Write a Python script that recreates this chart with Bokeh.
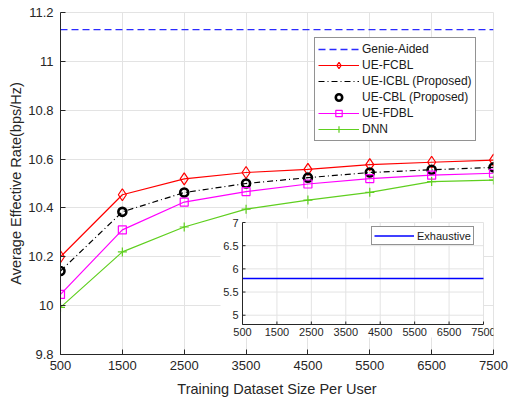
from bokeh.plotting import figure
from bokeh.models import (Range1d, FixedTicker, CustomJSTickFormatter, Legend,
                          LegendItem, ColumnDataSource, BasicTickFormatter)
from bokeh.embed import file_html
from bokeh.resources import INLINE
from bokeh.core.properties import value

# ---------------- data ----------------
train_size = [500, 1500, 2500, 3500, 4500, 5500, 6500, 7500]
genie_aided = 11.13
ue_fcbl = [10.200, 10.454, 10.519, 10.545, 10.558, 10.577, 10.587, 10.596]
ue_icbl = [10.142, 10.384, 10.463, 10.500, 10.524, 10.545, 10.556, 10.566]
ue_cbl = [10.142, 10.384, 10.463, 10.500, 10.524, 10.545, 10.556, 10.566]
ue_fdbl = [10.046, 10.310, 10.424, 10.467, 10.498, 10.520, 10.534, 10.542]
dnn = [9.993, 10.220, 10.322, 10.395, 10.432, 10.464, 10.508, 10.514]
exhaustive = 5.79

main_yticks = [9.8, 10.0, 10.2, 10.4, 10.6, 10.8, 11.0, 11.2]
inset_xticks = [500, 1500, 2500, 3500, 4500, 5500, 6500, 7500]
inset_yticks = [5.0, 5.5, 6.0, 6.5, 7.0]
inset_ylim = (4.8, 7.0)

# ---------------- layout constants (pixels) ----------------
W, H = 509, 401
FL, FR, FT, FB = 60, 493, 12, 354          # main frame edges
IL, IR, IT, IB = 242, 483, 222, 324         # inset axes box
FONT = "Liberation Sans"
AX = "#262626"
GRID = "#e3e3e3"

p = figure(width=W, height=H, output_backend="svg", toolbar_location=None,
           x_range=Range1d(train_size[0], train_size[-1]),
           y_range=Range1d(main_yticks[0], main_yticks[-1]),
           min_border_left=FL, min_border_right=W - FR,
           min_border_top=FT, min_border_bottom=H - FB)
p.background_fill_color = "white"
p.border_fill_color = "white"
p.outline_line_color = GRID

for ax in (p.xaxis[0], p.yaxis[0]):
    ax.axis_line_color = AX
    ax.major_tick_line_color = AX
    ax.major_tick_in = 5
    ax.major_tick_out = 0
    ax.minor_tick_line_color = None
    ax.major_label_text_font = FONT
    ax.major_label_text_font_size = "13px"
    ax.major_label_text_color = AX
    ax.axis_label_text_font = FONT
    ax.axis_label_text_font_size = "14.5px"
    ax.axis_label_text_font_style = "normal"
    ax.axis_label_text_color = AX

p.xaxis.ticker = FixedTicker(ticks=train_size)
p.xaxis.formatter = BasicTickFormatter(use_scientific=False)
p.xaxis.major_label_standoff = 6
p.xaxis.axis_label = "Training Dataset Size Per User"
p.xaxis.axis_label_standoff = 8
p.yaxis.ticker = FixedTicker(ticks=main_yticks)
p.yaxis.formatter = CustomJSTickFormatter(code="return Number(tick.toFixed(1)).toString();")
p.yaxis.major_label_standoff = 7
p.yaxis.axis_label = "Average Effective Rate(bps/Hz)"
p.yaxis.axis_label_standoff = 1
p.xgrid.grid_line_color = GRID
p.ygrid.grid_line_color = GRID

# ---------------- main series ----------------
lw = 1.2
genie_r = p.line([train_size[0], train_size[-1]], [genie_aided, genie_aided],
                 line_color="#2b2bff", line_width=1.3, line_dash="7 4")
fcbl_l = p.line(train_size, ue_fcbl, line_color="red", line_width=lw)
fcbl_m = p.scatter(train_size, ue_fcbl, marker="diamond", size=12,
                   line_color="red", line_width=lw, fill_color=None)
icbl_l = p.line(train_size, ue_icbl, line_color="black", line_width=lw, line_dash="6 3 1 3")
cbl_m = p.scatter(train_size, ue_cbl, marker="circle", size=8,
                  line_color="black", line_width=2.6, fill_color=None)
fdbl_l = p.line(train_size, ue_fdbl, line_color="#ff00ff", line_width=lw)
fdbl_m = p.scatter(train_size, ue_fdbl, marker="square", size=8,
                   line_color="#ff00ff", line_width=lw, fill_color=None)
dnn_l = p.line(train_size, dnn, line_color="#5fcf1f", line_width=lw)
dnn_m = p.scatter(train_size, dnn, marker="cross", size=9,
                  line_color="#5fcf1f", line_width=lw)

# ---------------- inset drawn with extra ranges ----------------
x0, x1 = inset_xticks[0], inset_xticks[-1]
y0, y1 = inset_ylim
sx = (IR - IL) / (x1 - x0)
sy = (IB - IT) / (y1 - y0)
p.extra_x_ranges = {"ix": Range1d(x0 - (IL - FL) / sx, x1 + (FR - IR) / sx)}
p.extra_y_ranges = {"iy": Range1d(y0 - (FB - IB) / sy, y1 + (IT - FT) / sy)}
kw = dict(x_range_name="ix", y_range_name="iy")

# white background covering inset box and its tick labels
p.quad(left=[x0 - 22 / sx], right=[x1], bottom=[y0 - 13 / sy], top=[y1 + 4 / sy],
       fill_color="white", line_color=None, **kw)
# inset grid
p.segment(x0=inset_xticks, y0=[y0] * len(inset_xticks), x1=inset_xticks,
          y1=[y1] * len(inset_xticks), line_color=GRID, line_width=1, **kw)
p.segment(x0=[x0] * len(inset_yticks), y0=inset_yticks, x1=[x1] * len(inset_yticks),
          y1=inset_yticks, line_color=GRID, line_width=1, **kw)
# exhaustive line
exh_r = p.line([x0, x1], [exhaustive, exhaustive], line_color="#0000ff", line_width=1.5, **kw)
# inset axes lines
p.segment(x0=[x0, x0], y0=[y0, y0], x1=[x0, x1], y1=[y1, y0], line_color=AX, line_width=1, **kw)
# inward ticks
p.segment(x0=inset_xticks, y0=[y0] * len(inset_xticks), x1=inset_xticks,
          y1=[y0 + 3 / sy] * len(inset_xticks), line_color=AX, line_width=1, **kw)
p.segment(x0=[x0] * len(inset_yticks), y0=inset_yticks, x1=[x0 + 3 / sx] * len(inset_yticks),
          y1=inset_yticks, line_color=AX, line_width=1, **kw)
# inset tick labels
xl = ColumnDataSource(dict(x=inset_xticks, y=[y0] * len(inset_xticks),
                           t=[f"{v:g}" for v in inset_xticks]))
p.text(x="x", y="y", text="t", source=xl, text_align="center", text_baseline="top",
       y_offset=3, text_font=value(FONT), text_font_size="11px", text_color=AX, **kw)
yl = ColumnDataSource(dict(x=[x0] * len(inset_yticks), y=inset_yticks,
                           t=[f"{v:g}" for v in inset_yticks]))
p.text(x="x", y="y", text="t", source=yl, text_align="right", text_baseline="middle",
       x_offset=-4, text_font=value(FONT), text_font_size="11px", text_color=AX, **kw)

# ---------------- legends ----------------
main_leg = Legend(items=[
    LegendItem(label="Genie-Aided", renderers=[genie_r]),
    LegendItem(label="UE-FCBL", renderers=[fcbl_l, fcbl_m]),
    LegendItem(label="UE-ICBL (Proposed)", renderers=[icbl_l]),
    LegendItem(label="UE-CBL (Proposed)", renderers=[cbl_m]),
    LegendItem(label="UE-FDBL", renderers=[fdbl_l, fdbl_m]),
    LegendItem(label="DNN", renderers=[dnn_l, dnn_m]),
], location=(314 - FL, FB - 141), glyph_width=41, glyph_height=16, label_height=16,
    spacing=0, padding=3, margin=0, label_standoff=3,
    border_line_color=AX, border_line_width=1,
    label_text_font=FONT, label_text_font_size="12px", label_text_color="#1a1a1a",
    background_fill_color="white", background_fill_alpha=1)
p.add_layout(main_leg)

inset_leg = Legend(items=[LegendItem(label="Exhaustive", renderers=[exh_r])],
                   location=(371 - FL, FB - 245), glyph_width=40, glyph_height=13,
                   label_height=13, spacing=0, padding=2, margin=0, label_standoff=3,
                   border_line_color=AX, border_line_width=1,
                   label_text_font=FONT, label_text_font_size="11px",
                   label_text_color="#1a1a1a",
                   background_fill_color="white", background_fill_alpha=1)
p.add_layout(inset_leg)

open("out.html", "w").write(file_html(p, INLINE))
